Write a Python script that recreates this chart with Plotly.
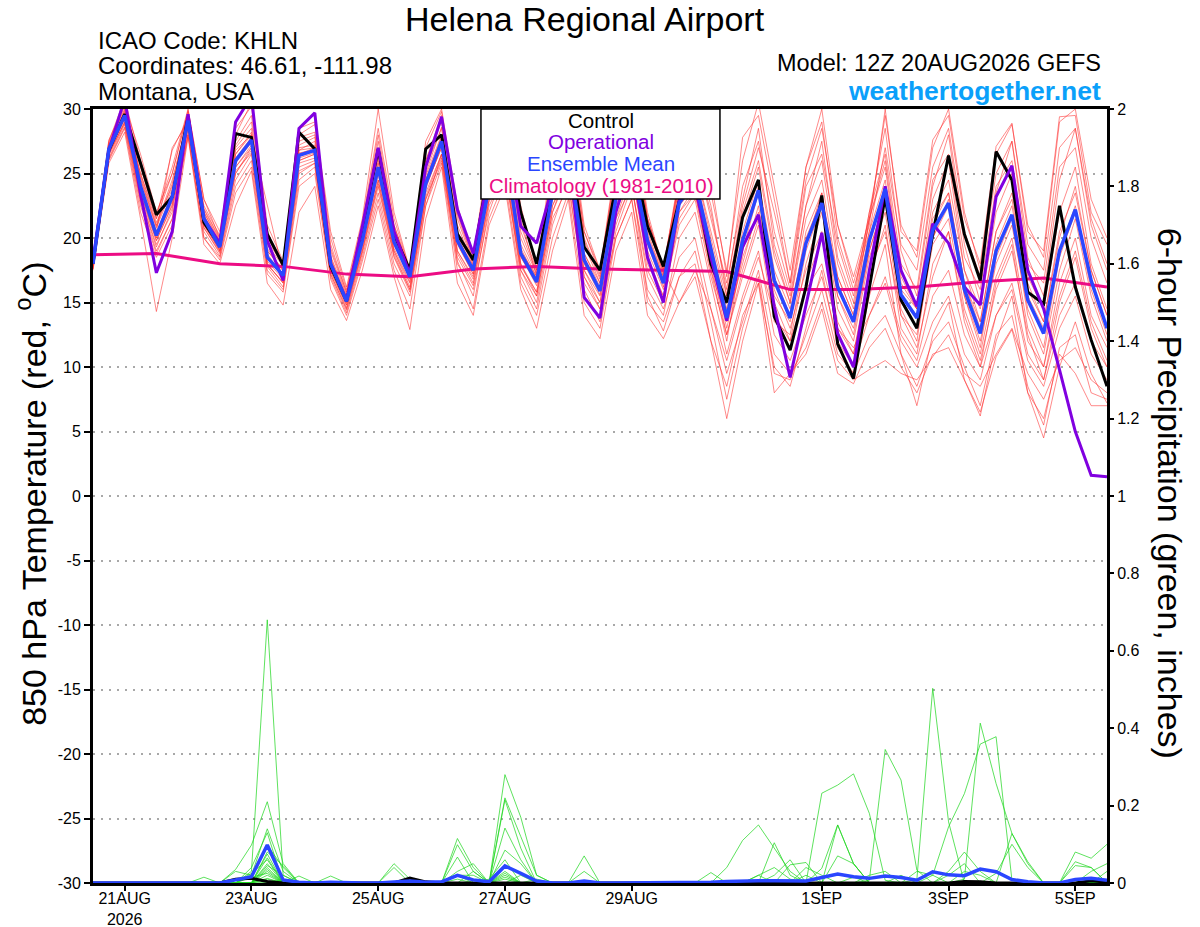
import pandas as pd
import plotly.graph_objects as go


# 6-hourly GEFS steps, 12Z 20AUG2026 -> 12Z 05SEP2026
times = pd.date_range('2026-08-20 12:00', periods=65, freq='6h')
clim_times = pd.date_range('2026-08-20 12:00', periods=17, freq='24h')


# 850 hPa temperature (C)
control_t = [18.0, 26.8, 29.6, 25.8, 21.8,
             23.2, 29.4, 21.2, 19.4,
             28.1, 27.8, 20.3, 17.9,
             28.2, 26.9, 17.8, 15.1,
             20.6, 26.9, 20.3, 17.5,
             26.9, 28.0, 20.3, 18.3,
             25.5, 28.5, 22.0, 18.0,
             24.0, 27.5, 19.3, 17.5,
             24.0, 27.0, 20.9, 17.8,
             22.9, 24.5, 18.0, 15.0,
             21.6, 24.5, 13.9, 11.3,
             16.2, 23.3, 11.8, 9.1,
             16.2, 23.2, 15.2, 13.0,
             20.3, 26.4, 20.3, 16.7,
             26.7, 24.5, 15.8, 14.9,
             22.5, 16.2, 12.1, 8.5]

operational_t = [18.3, 26.8, 30.8, 23.4, 17.3,
                 20.5, 29.6, 21.5, 19.6,
                 29.0, 31.0, 19.8, 16.7,
                 28.5, 29.7, 18.0, 15.2,
                 20.9, 27.0, 20.5, 17.2,
                 25.5, 29.4, 22.2, 18.8,
                 25.0, 28.5, 20.9, 19.6,
                 24.0, 27.0, 15.4, 13.8,
                 22.0, 26.0, 18.5, 15.0,
                 22.9, 24.0, 18.5, 13.6,
                 19.3, 21.8, 14.7, 9.2,
                 14.7, 20.4, 12.6, 10.0,
                 17.5, 24.0, 17.5, 14.7,
                 21.1, 19.6, 16.2, 14.8,
                 23.2, 25.6, 17.5, 14.5,
                 9.8, 5.0, 1.6, 1.5]

mean_t = [18.0, 26.9, 29.5, 24.0, 20.2,
          23.2, 29.1, 21.5, 19.3,
          26.0, 27.6, 18.5, 17.1,
          26.4, 26.8, 18.0, 15.1,
          19.8, 25.5, 19.7, 17.0,
          24.2, 27.5, 19.8, 17.5,
          24.0, 27.0, 18.8, 16.6,
          23.5, 26.5, 18.3, 15.9,
          23.0, 26.0, 19.8, 16.5,
          22.7, 24.5, 19.0, 13.8,
          19.8, 23.7, 16.7, 13.8,
          19.6, 22.7, 16.2, 13.5,
          19.8, 23.8, 15.6, 13.8,
          20.6, 22.7, 16.0, 12.6,
          19.0, 21.8, 15.2, 12.6,
          19.0, 22.2, 16.7, 13.0]

# daily climatology (1981-2010) at 12Z
clim_t = [18.7, 18.8, 18.0, 17.8, 17.2, 17.0, 17.6, 17.8, 17.6,
          17.5, 17.4, 16.0, 16.0, 16.2, 16.6, 16.9, 16.2]

member_t = [
    [18.2, 27.2, 30.2, 24.5, 20.8, 23.8, 29.5, 22.0, 19.8, 26.5, 28.2, 19.0, 17.5,
     26.8, 27.5, 18.6, 15.5, 20.2, 26.8, 20.5, 17.2, 25.0, 28.6, 20.5, 17.8,
     24.8, 28.0, 19.5, 17.0, 24.5, 28.0, 19.5, 16.5, 24.5, 28.5, 21.0, 17.2,
     24.5, 26.8, 21.5, 16.5, 23.0, 28.5, 19.5, 15.5, 22.5, 27.5, 18.5, 15.0,
     22.0, 28.5, 19.0, 15.5, 24.0, 28.0, 19.5, 15.0, 23.5, 27.5, 18.5, 15.5,
     24.5, 28.5, 21.0, 17.5],
    [17.8, 26.5, 29.0, 23.5, 19.8, 22.5, 28.8, 21.0, 19.0, 25.5, 27.0, 18.2, 16.8,
     25.8, 26.2, 17.5, 14.6, 19.2, 24.5, 19.0, 16.2, 23.5, 26.5, 19.0, 16.8,
     23.0, 25.5, 17.8, 15.8, 22.5, 25.0, 17.5, 15.0, 21.5, 24.0, 17.0, 14.5,
     18.5, 20.0, 14.5, 9.5, 13.5, 17.5, 11.0, 9.5, 11.5, 15.0, 10.5, 9.0,
     9.8, 10.5, 9.5, 9.0, 10.8, 12.5, 9.5, 8.5, 11.0, 13.0, 9.5, 7.5,
     10.5, 11.5, 9.0, 8.0],
    [18.0, 27.0, 29.8, 23.0, 19.5, 22.0, 29.0, 21.2, 19.2, 25.0, 27.0, 18.0, 16.5,
     26.0, 26.5, 17.8, 14.8, 19.5, 25.0, 19.0, 16.5, 24.0, 27.0, 19.0, 17.0,
     23.5, 26.5, 18.0, 15.5, 22.0, 25.5, 17.0, 14.5, 21.0, 24.5, 15.5, 12.8,
     17.0, 18.0, 12.0, 6.0, 12.0, 16.5, 10.0, 8.5, 13.0, 17.5, 11.5, 9.5,
     15.5, 19.5, 11.0, 7.0, 12.5, 15.0, 9.0, 6.2, 12.0, 15.5, 8.0, 4.5,
     10.0, 13.5, 9.5, 7.2],
    [18.3, 27.4, 30.5, 25.5, 21.5, 25.0, 29.8, 22.5, 20.2, 27.5, 29.5, 20.5, 17.8,
     27.5, 28.0, 19.5, 15.8, 21.0, 28.0, 21.0, 17.5, 26.0, 29.0, 21.5, 18.0,
     26.0, 29.5, 21.0, 17.5, 25.5, 29.5, 20.5, 17.5, 25.5, 29.5, 21.5, 17.8,
     24.5, 27.0, 23.5, 17.5, 26.0, 30.5, 24.0, 17.5, 25.5, 30.0, 21.0, 17.0,
     21.5, 29.5, 21.0, 18.5, 27.0, 30.0, 22.0, 17.5, 26.5, 28.8, 21.0, 18.5,
     29.0, 30.0, 23.0, 20.0],
    [17.6, 26.0, 28.5, 22.0, 18.5, 21.0, 28.0, 20.0, 18.5, 24.0, 26.0, 17.5, 16.0,
     24.5, 25.5, 17.0, 14.2, 18.5, 23.5, 18.0, 15.5, 22.5, 26.5, 18.0, 16.0,
     22.0, 25.5, 17.0, 14.5, 21.0, 24.5, 16.0, 13.5, 20.5, 24.0, 17.5, 15.0,
     22.0, 24.0, 18.5, 13.0, 18.5, 22.0, 14.0, 11.5, 16.5, 20.0, 13.5, 11.0,
     17.0, 21.0, 13.0, 11.0, 18.0, 20.5, 13.5, 10.0, 16.5, 19.5, 12.0, 10.0,
     15.5, 19.0, 13.5, 10.5],
    [18.1, 27.0, 29.6, 24.8, 21.0, 24.5, 29.2, 21.8, 19.5, 26.8, 28.0, 19.0, 17.6,
     27.0, 27.2, 18.5, 15.2, 20.0, 26.0, 20.0, 17.2, 24.8, 28.0, 20.0, 17.8,
     24.5, 27.5, 19.0, 17.0, 24.0, 27.0, 18.8, 16.2, 23.5, 26.5, 20.5, 17.0,
     23.5, 25.5, 20.0, 15.0, 21.5, 25.5, 18.5, 15.0, 21.5, 24.5, 17.0, 14.0,
     20.5, 24.5, 16.0, 14.5, 22.0, 24.5, 17.5, 13.5, 20.5, 23.5, 16.5, 13.5,
     20.0, 24.0, 17.5, 14.0],
    [17.9, 26.6, 29.2, 23.8, 20.0, 23.0, 28.6, 21.2, 19.0, 25.5, 27.2, 18.4, 17.0,
     26.0, 26.5, 17.8, 15.0, 19.8, 25.5, 19.5, 16.8, 24.0, 27.0, 19.5, 17.2,
     23.5, 26.5, 18.5, 16.5, 23.5, 26.0, 18.5, 16.0, 22.5, 25.5, 19.0, 16.0,
     22.5, 24.0, 18.0, 12.5, 17.5, 21.5, 15.0, 12.0, 18.0, 22.0, 15.5, 12.5,
     19.0, 23.0, 14.5, 12.0, 20.0, 22.5, 15.5, 11.5, 18.5, 21.5, 14.0, 11.0,
     17.5, 21.5, 15.5, 12.0],
    [17.5, 25.8, 28.2, 21.5, 14.3, 20.0, 27.8, 19.5, 18.0, 22.5, 25.2, 16.5, 14.8,
     22.0, 24.0, 16.0, 13.6, 17.5, 22.5, 17.0, 12.9, 21.5, 25.5, 16.5, 14.0,
     21.0, 24.0, 16.0, 13.0, 19.0, 23.0, 14.0, 12.2, 19.0, 22.0, 14.0, 12.2,
     15.0, 17.0, 12.0, 8.5, 14.0, 16.5, 8.0, 9.5, 11.0, 14.5, 9.5, 8.7,
     11.5, 13.0, 10.0, 8.0, 11.0, 11.5, 9.0, 6.5, 10.8, 12.9, 8.0, 6.0,
     11.0, 9.5, 7.0, 7.0],
    [18.0, 26.8, 29.4, 24.2, 20.5, 27.0, 29.0, 21.6, 19.4, 26.2, 27.8, 22.5, 17.3,
     26.6, 26.8, 18.2, 15.3, 19.9, 25.8, 19.9, 17.0, 24.5, 27.8, 20.0, 17.6,
     24.2, 27.2, 18.9, 16.8, 23.8, 27.0, 18.5, 16.0, 23.0, 26.5, 20.0, 16.8,
     23.0, 25.0, 19.5, 14.5, 20.0, 24.0, 17.0, 14.0, 20.5, 23.5, 16.5, 13.5,
     20.0, 24.0, 15.5, 14.0, 21.0, 23.5, 16.5, 13.0, 19.5, 22.5, 15.5, 13.0,
     19.0, 22.5, 16.5, 13.0],
    [18.4, 27.5, 30.8, 26.0, 21.8, 25.5, 30.0, 23.0, 20.5, 28.0, 30.5, 21.0, 18.2,
     28.5, 29.0, 20.5, 16.2, 21.5, 30.0, 22.0, 17.5, 27.5, 30.0, 22.5, 18.5,
     27.0, 30.0, 22.5, 17.5, 26.5, 30.0, 21.0, 17.5, 26.0, 30.0, 22.0, 17.5,
     25.0, 27.0, 24.5, 17.0, 27.8, 29.5, 23.0, 16.5, 24.5, 28.5, 21.0, 16.5,
     21.0, 30.0, 20.5, 19.0, 27.6, 29.5, 21.5, 18.0, 27.1, 28.9, 20.5, 19.0,
     29.4, 29.5, 22.0, 19.5],
    [17.7, 26.2, 28.8, 22.8, 19.0, 21.5, 28.2, 20.5, 18.6, 24.5, 26.5, 17.8, 16.2,
     25.0, 25.8, 17.2, 14.4, 18.8, 24.0, 18.5, 15.8, 23.0, 26.0, 18.2, 15.5,
     22.5, 25.0, 17.5, 15.0, 21.5, 24.0, 16.5, 14.5, 20.0, 23.0, 16.0, 14.0,
     20.0, 22.0, 16.5, 11.0, 15.5, 19.0, 12.5, 10.5, 14.0, 17.0, 12.0, 10.0,
     14.0, 16.5, 12.0, 10.0, 13.5, 15.5, 11.0, 9.0, 14.0, 16.0, 10.5, 8.5,
     13.0, 15.5, 11.0, 9.0],
    [18.2, 27.1, 29.9, 25.0, 21.2, 24.0, 29.4, 22.2, 19.9, 27.0, 28.5, 19.5, 17.8,
     27.2, 27.8, 19.0, 15.6, 20.6, 27.0, 20.8, 17.3, 25.5, 28.5, 21.0, 17.9,
     25.5, 28.5, 20.0, 17.2, 25.0, 28.5, 19.8, 16.8, 24.5, 28.0, 21.0, 17.3,
     24.0, 26.5, 22.0, 16.0, 24.0, 27.5, 20.5, 16.0, 24.0, 26.5, 19.5, 15.5,
     22.0, 26.5, 18.0, 16.0, 24.5, 26.5, 18.5, 16.0, 24.0, 26.0, 18.0, 16.5,
     25.5, 27.0, 20.0, 16.5],
    [17.9, 26.7, 29.3, 23.5, 20.0, 22.8, 28.8, 21.0, 19.1, 25.8, 27.4, 18.8, 17.0,
     26.2, 26.6, 18.0, 15.0, 19.5, 25.0, 19.2, 16.6, 23.8, 27.2, 19.6, 17.2,
     23.8, 26.8, 18.6, 16.3, 23.0, 26.2, 18.0, 15.6, 22.8, 25.8, 19.5, 16.2,
     22.0, 23.5, 17.5, 12.0, 19.0, 23.5, 16.0, 13.0, 17.5, 20.5, 13.0, 11.0,
     17.5, 20.5, 14.0, 12.5, 19.5, 21.5, 14.5, 11.0, 17.0, 20.0, 13.0, 10.0,
     16.5, 20.0, 14.0, 11.5],
    [18.1, 26.9, 29.7, 25.0, 21.5, 26.8, 29.3, 22.0, 19.6, 26.5, 28.0, 19.2, 17.4,
     26.8, 27.0, 18.3, 15.4, 20.3, 26.3, 20.2, 17.0, 24.5, 27.8, 20.2, 17.5,
     24.5, 27.5, 19.2, 16.8, 24.0, 27.0, 18.8, 16.5, 23.5, 26.8, 20.2, 17.0,
     24.0, 25.5, 20.5, 15.5, 22.0, 26.0, 19.0, 15.0, 22.5, 26.0, 18.0, 14.5,
     21.5, 26.0, 17.0, 14.5, 23.0, 26.0, 17.5, 14.5, 22.0, 25.0, 17.0, 14.5,
     22.0, 25.5, 18.0, 14.5],
    [17.8, 26.4, 28.9, 23.0, 19.3, 22.3, 28.5, 20.8, 18.8, 25.0, 26.8, 18.0, 16.5,
     25.5, 26.0, 17.4, 14.8, 19.0, 24.5, 18.8, 16.0, 23.2, 26.5, 18.8, 16.5,
     23.0, 26.0, 18.0, 15.8, 22.5, 25.5, 17.5, 15.5, 21.5, 25.0, 18.5, 15.5,
     21.0, 23.0, 17.0, 12.5, 17.0, 21.0, 13.5, 12.5, 19.0, 22.5, 14.5, 12.0,
     18.5, 22.0, 14.0, 11.5, 17.0, 20.5, 14.0, 10.5, 16.0, 19.0, 12.5, 9.0,
     15.0, 18.5, 13.0, 10.0],
    [18.2, 27.3, 30.0, 24.6, 20.9, 24.2, 29.6, 22.3, 20.0, 27.2, 29.0, 19.8, 17.9,
     27.8, 28.2, 19.2, 15.8, 20.8, 27.5, 21.0, 17.4, 26.0, 29.5, 21.8, 18.2,
     26.0, 29.0, 20.5, 17.3, 25.0, 28.8, 20.0, 17.0, 25.0, 29.0, 21.5, 17.6,
     24.5, 27.0, 22.5, 15.5, 22.5, 27.0, 22.0, 16.5, 25.5, 29.0, 20.0, 16.0,
     20.5, 27.0, 19.5, 17.5, 25.5, 28.5, 20.5, 17.0, 25.0, 27.5, 19.5, 17.5,
     27.0, 28.5, 21.5, 18.0],
    [17.6, 26.1, 28.6, 22.5, 18.8, 21.5, 28.0, 20.0, 18.3, 23.5, 25.5, 17.2, 15.8,
     24.0, 25.0, 16.8, 14.0, 18.2, 23.0, 17.5, 14.5, 22.5, 25.8, 17.5, 14.5,
     21.5, 24.5, 16.5, 14.0, 20.0, 23.5, 15.0, 13.0, 20.0, 23.0, 15.0, 13.5,
     17.0, 19.0, 13.5, 7.5, 13.0, 17.0, 9.5, 9.0, 12.5, 16.0, 11.0, 9.5,
     12.5, 14.0, 11.0, 8.5, 12.0, 13.5, 10.0, 7.0, 12.5, 14.0, 8.5, 5.5,
     11.5, 12.5, 8.0, 7.5],
    [18.0, 26.8, 29.5, 24.0, 20.4, 23.5, 29.1, 21.5, 19.4, 26.0, 27.8, 18.6, 17.2,
     26.5, 27.0, 18.0, 15.1, 19.8, 25.5, 19.7, 17.0, 24.2, 27.5, 19.8, 17.5,
     24.0, 27.0, 18.8, 16.6, 23.5, 26.5, 18.3, 15.9, 23.0, 26.0, 19.8, 16.5,
     22.5, 24.5, 19.0, 14.0, 20.5, 24.5, 17.5, 14.5, 20.0, 23.0, 17.0, 14.0,
     21.5, 25.5, 16.5, 14.5, 21.5, 23.5, 16.5, 13.5, 20.5, 23.0, 16.0, 13.5,
     20.5, 23.5, 17.5, 14.0],
    [17.9, 26.5, 29.0, 23.2, 19.8, 22.6, 28.7, 20.8, 18.9, 25.2, 26.6, 17.9, 16.6,
     25.2, 25.8, 17.2, 14.5, 19.0, 24.2, 18.6, 16.0, 23.0, 26.2, 18.5, 16.3,
     22.8, 25.5, 17.5, 15.5, 22.0, 25.0, 17.0, 15.0, 22.0, 25.0, 18.0, 15.5,
     21.5, 23.5, 17.5, 13.5, 18.0, 22.5, 15.5, 13.5, 19.5, 23.5, 15.5, 13.0,
     19.0, 23.0, 15.0, 13.0, 20.0, 23.0, 15.5, 12.0, 18.0, 21.0, 14.5, 11.5,
     18.5, 22.0, 16.0, 12.5],
    [18.5, 27.6, 30.3, 26.5, 22.0, 25.0, 29.9, 23.0, 20.0, 28.5, 30.2, 20.0, 18.0,
     28.0, 28.8, 20.0, 16.0, 21.2, 28.5, 21.5, 17.5, 27.0, 29.8, 22.0, 18.3,
     26.5, 29.5, 21.5, 17.0, 26.0, 29.0, 20.5, 17.2, 25.5, 29.0, 21.5, 17.5,
     15.0, 17.5, 14.5, 10.5, 15.0, 18.5, 14.0, 12.0, 16.0, 18.0, 13.0, 11.5,
     14.0, 17.0, 12.5, 10.5, 15.5, 17.5, 12.5, 10.0, 14.0, 16.5, 11.0, 9.0,
     14.0, 16.5, 12.0, 10.0],
]


# 6-hour precipitation (inches)
mean_p = [0, 0, 0, 0, 0, 0, 0, 0, 0,
          0.008, 0.016, 0.098, 0.008, 0.002, 0, 0.002, 0, 0, 0, 0.002,
          0.005, 0.002, 0.003, 0.02, 0.008, 0.003, 0.044, 0.025, 0.005, 0,
          0, 0.005, 0, 0, 0, 0, 0, 0, 0.001, 0.002,
          0.004, 0.006, 0.006, 0.006, 0.005, 0.005, 0.014, 0.023, 0.016, 0.012,
          0.018, 0.014, 0.007, 0.029, 0.021, 0.019, 0.036, 0.029, 0.009, 0.003,
          0, 0, 0.009, 0.012, 0.007]

# non-zero steps only {step: inches}
control_p = {9: 0.01, 10: 0.012, 11: 0.004, 20: 0.013, 21: 0.003,
             55: 0.004, 56: 0.003, 63: 0.006, 64: 0.002}

member_p = [
    {7: 0.015, 10: 0.03, 11: 0.68, 12: 0.02, 40: 0.04, 41: 0.11, 42: 0.15, 43: 0.09, 44: 0.03},
    {9: 0.035, 10: 0.098, 11: 0.21, 12: 0.05, 26: 0.28, 27: 0.17, 28: 0.02},
    {10: 0.02, 11: 0.14, 12: 0.03, 23: 0.115, 24: 0.04, 26: 0.22, 27: 0.12, 28: 0.02,
     46: 0.232, 47: 0.253, 48: 0.282, 49: 0.18, 50: 0.007},
    {10: 0.04, 11: 0.13, 13: 0.018, 23: 0.099, 24: 0.03, 26: 0.215, 27: 0.09,
     49: 0.007, 50: 0.345, 51: 0.266, 52: 0.033},
    {9: 0.03, 10: 0.02, 11: 0.098, 12: 0.04, 23: 0.067, 26: 0.142, 27: 0.06,
     52: 0.01, 53: 0.503, 54: 0.158},
    {11: 0.08, 12: 0.045, 15: 0.018, 23: 0.03, 24: 0.05, 26: 0.085, 27: 0.05,
     53: 0.02, 54: 0.145, 55: 0.231, 56: 0.359, 57: 0.378, 58: 0.007},
    {11: 0.075, 19: 0.05, 20: 0.01, 26: 0.042, 27: 0.025, 55: 0.01, 56: 0.413,
     57: 0.257, 58: 0.128, 59: 0.05},
    {11: 0.065, 19: 0.04, 23: 0.02, 24: 0.02, 26: 0.03, 58: 0.128, 59: 0.055,
     62: 0.08, 63: 0.064, 64: 0.1},
    {10: 0.025, 11: 0.06, 31: 0.07, 44: 0.047, 45: 0.053, 47: 0.15, 48: 0.05,
     62: 0.055, 63: 0.04},
    {11: 0.05, 24: 0.03, 26: 0.02, 31: 0.03, 39: 0.027, 43: 0.104, 44: 0.02, 64: 0.03},
    {11: 0.045, 12: 0.02, 25: 0.01, 26: 0.06, 46: 0.038, 47: 0.15, 48: 0.05},
    {11: 0.04, 23: 0.02, 27: 0.02, 47: 0.07, 48: 0.05, 54: 0.03, 55: 0.08, 56: 0.03,
     62: 0.045, 63: 0.04},
    {11: 0.035, 26: 0.025, 42: 0.02, 45: 0.04, 46: 0.02, 51: 0.02, 57: 0.025,
     58: 0.1, 59: 0.04},
    {11: 0.03, 28: 0.01, 43: 0.02, 44: 0.06, 49: 0.02, 50: 0.03, 55: 0.03, 56: 0.02},
    {10: 0.015, 11: 0.025, 26: 0.015, 45: 0.02, 52: 0.03, 53: 0.02, 63: 0.03, 64: 0.05},
    {11: 0.02, 23: 0.01, 42: 0.02, 43: 0.04, 44: 0.01, 48: 0.015, 54: 0.02, 55: 0.05},
    {11: 0.01, 26: 0.01},
    {11: 0.012, 40: 0.005},
    {12: 0.01},
    {},
]

tick_days = ['2026-08-21', '2026-08-23', '2026-08-25', '2026-08-27',
             '2026-08-29', '2026-09-01', '2026-09-03', '2026-09-05']
tick_text = ['21AUG<br>2026', '23AUG', '25AUG', '27AUG', '29AUG', '1SEP', '3SEP', '5SEP']
temp_ticks = [-30, -25, -20, -15, -10, -5, 0, 5, 10, 15, 20, 25, 30]
temp_labels = ['-30', '-25', '-20', '-15', '-10', '-5', '0', '5', '10', '15', '20', '25', '30']
precip_ticks = [0, 0.2, 0.4, 0.6, 0.8, 1, 1.2, 1.4, 1.6, 1.8, 2]
precip_labels = ['0', '0.2', '0.4', '0.6', '0.8', '1', '1.2', '1.4', '1.6', '1.8', '2']


for row in member_t + [control_t, operational_t, mean_t, mean_p]:
    assert len(row) == len(times), len(row)


def full_series(sparse):
    return [sparse.get(i, 0.0) for i in range(len(times))]


FONT = 'Liberation Sans, Arial, Helvetica, sans-serif'
RED = 'rgba(255,45,45,0.8)'
GREEN = 'rgba(30,215,30,0.9)'
PURPLE = '#8000e0'
BLUE = '#2a46ff'
PINK = '#ec0c84'

fig = go.Figure()

#Ensemble members, temperature
for vals in member_t:
    fig.add_trace(go.Scatter(x=times, y=vals, mode='lines',
                             line=dict(color=RED, width=0.7), hoverinfo='skip'))

#Ensemble members, precipitation
for sp in member_p:
    fig.add_trace(go.Scatter(x=times, y=full_series(sp), mode='lines', yaxis='y2',
                             line=dict(color=GREEN, width=0.8), hoverinfo='skip'))

fig.add_trace(go.Scatter(x=clim_times, y=clim_t, mode='lines',
                         line=dict(color=PINK, width=3)))
fig.add_trace(go.Scatter(x=times, y=control_t, mode='lines',
                         line=dict(color='black', width=3)))
fig.add_trace(go.Scatter(x=times, y=operational_t, mode='lines',
                         line=dict(color=PURPLE, width=3)))
fig.add_trace(go.Scatter(x=times, y=mean_t, mode='lines',
                         line=dict(color=BLUE, width=3.5)))

fig.add_trace(go.Scatter(x=times, y=full_series(control_p), mode='lines', yaxis='y2',
                         line=dict(color='black', width=3)))
fig.add_trace(go.Scatter(x=times, y=mean_p, mode='lines', yaxis='y2',
                         line=dict(color=BLUE, width=3.5)))

fig.update_layout(
    width=1200, height=927,
    margin=dict(l=93, r=93, t=109, b=44, autoexpand=False),
    paper_bgcolor='white', plot_bgcolor='white',
    showlegend=False,
    font=dict(family=FONT, color='black', size=16),
    xaxis=dict(range=[times[0], times[-1]], automargin=False,
               tickvals=pd.to_datetime(tick_days), ticktext=tick_text,
               ticks='outside', ticklen=5, tickwidth=1.5, tickcolor='black',
               ticklabelstandoff=-6,
               showline=True, linewidth=3, linecolor='black', mirror=True,
               showgrid=False, zeroline=False, tickfont=dict(size=16)),
    yaxis=dict(range=[-30, 30], tickvals=temp_ticks, ticktext=temp_labels, automargin=False,
               ticks='outside', ticklen=6, tickwidth=1.5, tickcolor='black',
               showline=True, linewidth=3, linecolor='black', mirror=True,
               showgrid=True, gridcolor='#a8a8a8', gridwidth=1.5, griddash='2px,6px',
               zeroline=False, tickfont=dict(size=16)),
    yaxis2=dict(range=[0, 2], overlaying='y', side='right', automargin=False,
                tickvals=precip_ticks, ticktext=precip_labels,
                ticks='outside', ticklen=6, tickwidth=1.5, tickcolor='black',
                showline=False, showgrid=False, zeroline=False,
                tickfont=dict(size=16)),
)

#Header text
fig.add_annotation(text='Helena Regional Airport', x=0.485, y=1.116, xref='paper', yref='paper',
                   xanchor='center', yanchor='middle', showarrow=False, borderpad=0,
                   font=dict(size=34))
header_left = ['ICAO Code: KHLN', 'Coordinates: 46.61, -111.98', 'Montana, USA']
for txt, yy in zip(header_left, [1.089, 1.0556, 1.022]):
    fig.add_annotation(text=txt, x=0.004, y=yy, xref='paper', yref='paper',
                       xanchor='left', yanchor='middle', showarrow=False, borderpad=0,
                       font=dict(size=24))
fig.add_annotation(text='Model: 12Z 20AUG2026 GEFS', x=0.995, y=1.060, xref='paper', yref='paper',
                   xanchor='right', yanchor='middle', showarrow=False, borderpad=0,
                   font=dict(size=23.5))
fig.add_annotation(text='<b>weathertogether.net</b>', x=0.995, y=1.0235, xref='paper', yref='paper',
                   xanchor='right', yanchor='middle', showarrow=False, borderpad=0,
                   font=dict(size=26.5, color='#0aa0fa'))

#Axis titles
fig.add_annotation(text='850 hPa Temperature (red, <sup>o</sup>C)', x=-0.061, y=0.503,
                   xref='paper', yref='paper', textangle=-90, showarrow=False,
                   xanchor='center', yanchor='middle', font=dict(size=34))
fig.add_annotation(text='6-hour Precipitation (green, inches)', x=1.062, y=0.503,
                   xref='paper', yref='paper', textangle=90, showarrow=False,
                   xanchor='center', yanchor='middle', font=dict(size=34))

#Legend box
fig.add_shape(type='rect', xref='paper', yref='paper', x0=0.3826, x1=0.6183, y0=0.8837, y1=1.0,
              line=dict(color='black', width=1.5), fillcolor='white', layer='above')
legend_items = [('Control', 'black'), ('Operational', PURPLE),
                ('Ensemble Mean', BLUE), ('Climatology (1981-2010)', PINK)]
for (txt, col), yy in zip(legend_items, [0.9845, 0.9574, 0.9302, 0.9018]):
    fig.add_annotation(text=txt, x=0.5005, y=yy, xref='paper', yref='paper',
                       xanchor='center', yanchor='middle', showarrow=False, borderpad=0,
                       font=dict(size=20.5, color=col))

#page body margin would push the figure 8px off the window
fig.write_html("out.html", config={'displayModeBar': False},
               post_script="document.body.style.margin='0';")
